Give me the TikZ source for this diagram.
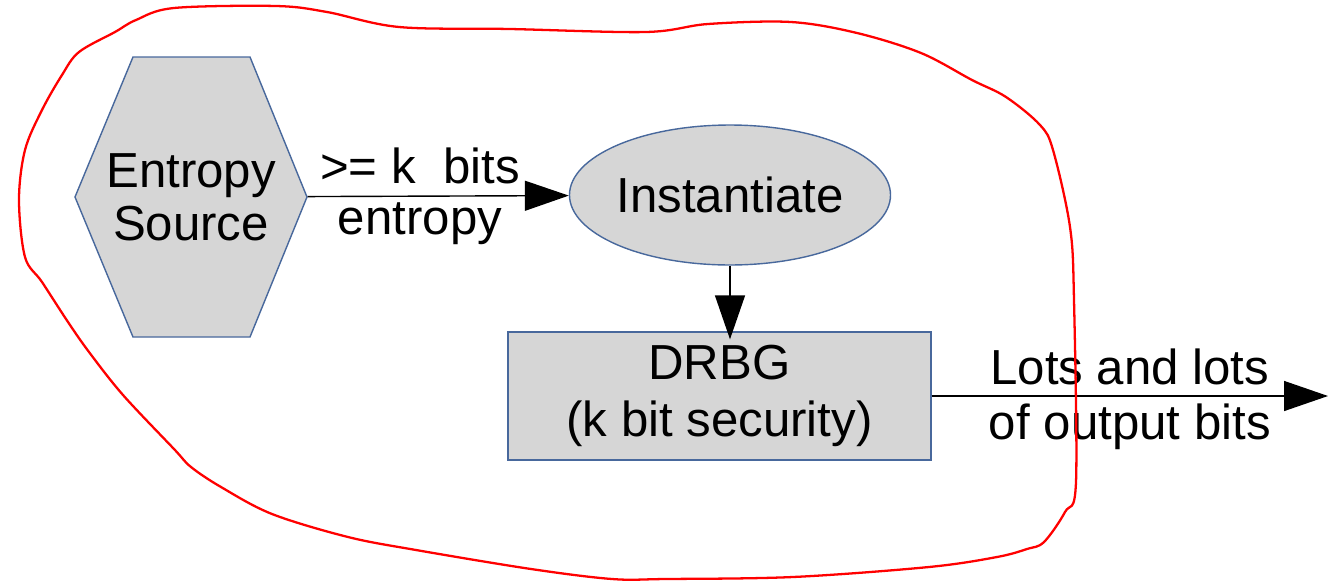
\documentclass[tikz,border=0pt]{standalone}
\usepackage{fontspec}
\setmainfont{Liberation Sans}
\usetikzlibrary{arrows.meta,shapes.geometric}
\definecolor{shapegray}{RGB}{214,214,214}
\definecolor{shapeblue}{RGB}{72,104,156}
\begin{document}
\begin{tikzpicture}[x=0.02cm, y=-0.02cm, thick,
        >={Triangle[length=0.88cm, width=0.6cm]},
        hexline/.style = {draw=shapeblue, fill=shapegray, line width=0.8pt},
        main/.style = {draw=shapeblue, fill=shapegray, line width=0.8pt, inner sep=0pt, align=center, font=\fontsize{28}{30}\selectfont},
        lbl/.style = {font=\fontsize{28}{30}\selectfont, inner sep=0pt, anchor=base},
        redloop/.style = {draw=red, line width=1.3pt}]
    \useasboundingbox (0,0) rectangle (1332,582);

    \draw[hexline] (75,197) -- (133,57) -- (250,57) -- (307,197) -- (250,337) -- (133,337) -- cycle;
    \node[main, draw=none, fill=none, minimum width=4.64cm, minimum height=5.6cm] (1) at (191,197) {Entropy\\Source};
    \node[main, ellipse, minimum width=6.2cm, minimum height=2.8cm] (2) at (730,195) {Instantiate};
    \node[main, rectangle, minimum width=8.46cm, minimum height=2.56cm] (3) at (719.5,396) {DRBG\\[2pt](k bit security)};
    \coordinate (4) at (1328,396);

    \draw[->] (1) -- node[lbl, pos=.43, yshift=0.26cm] (5) {>= k\ \ bits}
                     node[lbl, pos=.43, yshift=-0.76cm] (6) {entropy} (2);
    \draw[->, shorten >=-0.16cm] (2) -- (2 |- 3.north);
    \draw[->] (3) -- node[lbl, pos=.5, yshift=0.24cm] (7) {Lots and lots}
                     node[lbl, pos=.5, yshift=-0.86cm] (8) {of output bits} (4);

    % hand drawn loop
    \draw[redloop] plot[smooth cycle, tension=0.55] coordinates {
        (791,22) (857,33) (921,53) (972,80) (1006,97) (1040,125) (1053,150)
        (1070,227) (1074,300) (1076,482) (1065,512) (1044,542) (1027,549)
        (997,557) (929,567) (793,577) (666,579) (612,579) (531,569) (416,550)
        (348,537) (272,514) (221,487) (191,467) (174,449) (123,395) (89,352)
        (68,322) (42,282) (25,257) (19,200) (25,150) (42,110) (62,75) (79,52)
        (115,32) (136,20) (174,8) (276,6) (327,12) (399,27) (510,29) (646,32)
        (708,24)};
\end{tikzpicture}
\end{document}
